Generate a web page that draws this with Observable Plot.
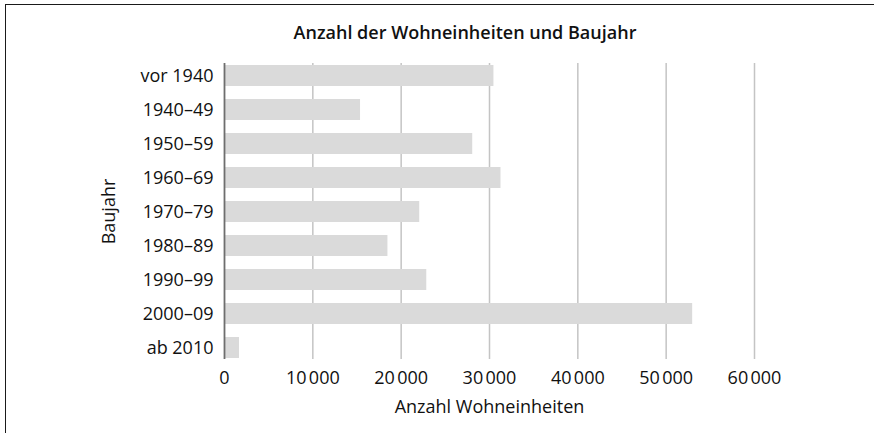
<!DOCTYPE html>
<html>
<head>
<meta charset="utf-8">
<script src="https://cdn.jsdelivr.net/npm/d3@7"></script>
<script src="https://cdn.jsdelivr.net/npm/@observablehq/plot@0.6"></script>
<style>
  html, body { margin: 0; padding: 0; background: #fff; }
  body { width: 874px; height: 433px; position: relative; overflow: hidden; font-family: "Open Sans", sans-serif; color: #111; }
  #frame { position: absolute; left: 5px; top: 4px; width: 869px; height: 429px; border-top: 1.5px solid #1a1a1a; border-left: 1.5px solid #1a1a1a; box-sizing: border-box; }
  #title { position: absolute; left: 465px; top: 20px; transform: translateX(-50%); white-space: nowrap; font-size: 18px; font-weight: 600; line-height: 24px; }
  #chart { position: absolute; left: 0; top: 50px; }
</style>
</head>
<body>
<div id="frame"></div>
<div id="title">Anzahl der Wohneinheiten und Baujahr</div>
<div id="chart"></div>
<script>
const categories = ["vor 1940", "1940–49", "1950–59", "1960–69", "1970–79", "1980–89", "1990–99", "2000–09", "ab 2010"];
const values = [30500, 15400, 28100, 31300, 22100, 18500, 22900, 53000, 1700];
const xTicks = [0, 10000, 20000, 30000, 40000, 50000, 60000];
const gridTicks = [10000, 20000, 30000, 40000, 50000, 60000];
const xLabel = "Anzahl Wohneinheiten";
const yLabel = "Baujahr";

const data = categories.map((c, i) => ({ cat: c, value: values[i] }));
const fmt = (d) => d === 0 ? "0" : d3.format(",")(d).replace(/,/g, "\u202F");

const chart = Plot.plot({
  width: 874,
  height: 383,
  marginTop: 13,
  marginBottom: 74,
  marginLeft: 224,
  marginRight: 120,
  style: { fontFamily: "Open Sans, sans-serif", fontSize: "18px", color: "#111", background: "transparent" },
  x: { domain: [0, 60000] },
  y: { domain: categories, paddingInner: 0.39, paddingOuter: 0 },
  marks: [
    Plot.gridX(gridTicks, { stroke: "#c4c4c4", strokeOpacity: 1, strokeWidth: 1.5 }),
    Plot.barX(data, { x: "value", y: "cat", fill: "#dadada" }),
    Plot.ruleX([0], { stroke: "#6e6e6e", strokeWidth: 1.8 }),
    Plot.axisX(xTicks, { tickSize: 0, tickPadding: 12, tickFormat: fmt, label: xLabel, labelAnchor: "center", labelArrow: "none", labelOffset: 53 }),
    Plot.axisY({ tickSize: 0, tickPadding: 11, label: yLabel, labelAnchor: "center", labelArrow: "none", labelOffset: 122 })
  ]
});
document.getElementById("chart").appendChild(chart);
</script>
</body>
</html>
